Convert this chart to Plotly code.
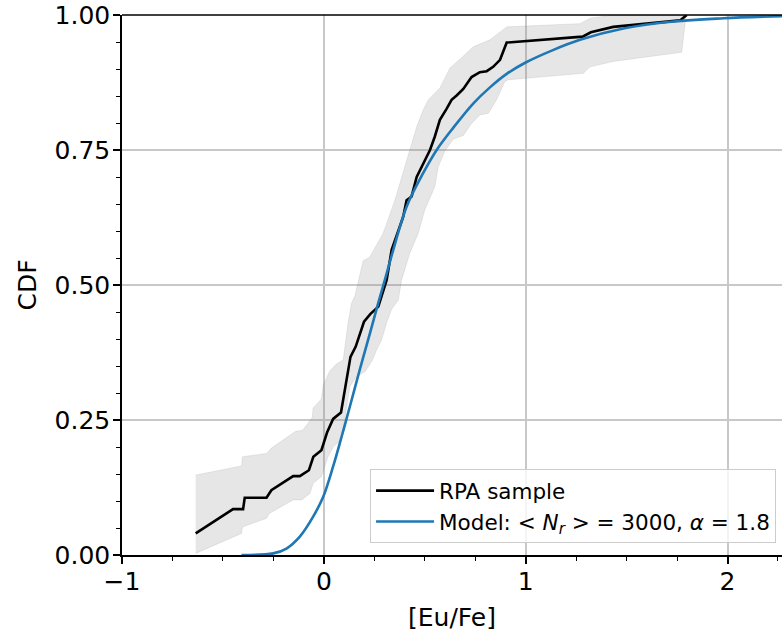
import plotly.graph_objects as go

# ---- data ----
rpa_x = [-0.635, -0.45, -0.40, -0.392, -0.284, -0.26, -0.152, -0.119, -0.074, -0.052,
         -0.012, 0.017, 0.046, 0.085, 0.132, 0.158, 0.199, 0.23, 0.27, 0.286, 0.311,
         0.336, 0.393, 0.41, 0.435, 0.46, 0.484, 0.526, 0.55, 0.575, 0.608, 0.633,
         0.658, 0.691, 0.732, 0.773, 0.807, 0.839, 0.873, 0.906, 1.282, 1.323, 1.434,
         1.765, 1.798]
rpa_y = [0.040, 0.085, 0.085, 0.106, 0.106, 0.12, 0.146, 0.146, 0.157, 0.182,
         0.194, 0.228, 0.252, 0.264, 0.367, 0.386, 0.432, 0.446, 0.46, 0.478, 0.509,
         0.565, 0.626, 0.657, 0.664, 0.70, 0.719, 0.75, 0.775, 0.806, 0.826, 0.843,
         0.851, 0.863, 0.885, 0.894, 0.896, 0.904, 0.917, 0.949, 0.960, 0.968, 0.978,
         0.990, 1.0]

band_upper_x = [-0.635, -0.408, -0.403, -0.284, -0.26, -0.14, -0.105, -0.058, -0.053,
                -0.012, -0.003, 0.03, 0.063, 0.096, 0.12, 0.137, 0.154, 0.178, 0.195,
                0.228, 0.294, 0.352, 0.402, 0.435, 0.46, 0.492, 0.518, 0.575, 0.625,
                0.674, 0.74, 0.823, 0.881, 0.906, 1.269, 1.319, 1.434, 1.795]
band_upper_y = [0.148, 0.165, 0.182, 0.188, 0.198, 0.229, 0.231, 0.254, 0.272,
                0.289, 0.315, 0.341, 0.354, 0.361, 0.43, 0.466, 0.48, 0.52, 0.545,
                0.552, 0.596, 0.657, 0.719, 0.762, 0.793, 0.824, 0.843, 0.865, 0.902,
                0.918, 0.941, 0.954, 0.972, 0.978, 0.984, 0.994, 1.0, 1.0]

band_lower_x = [-0.635, -0.408, -0.403, -0.284, -0.27, -0.152, -0.11, -0.069, -0.053,
                -0.012, 0.021, 0.046, 0.088, 0.129, 0.162, 0.205, 0.24, 0.262, 0.286,
                0.311, 0.336, 0.369, 0.385, 0.426, 0.468, 0.5, 0.55, 0.567, 0.6, 0.64,
                0.691, 0.732, 0.773, 0.815, 0.856, 0.897, 0.914, 1.286, 1.319, 1.434,
                1.773, 1.795]
band_lower_y = [0.003, 0.04, 0.052, 0.068, 0.077, 0.102, 0.102, 0.114, 0.133,
                0.145, 0.182, 0.2, 0.214, 0.312, 0.33, 0.34, 0.36, 0.38, 0.398,
                0.43, 0.455, 0.472, 0.509, 0.559, 0.596, 0.639, 0.682, 0.719, 0.748, 0.77,
                0.777, 0.799, 0.815, 0.818, 0.843, 0.877, 0.88, 0.892, 0.904, 0.914,
                0.931, 1.0]

model_x = [-0.408, -0.251, -0.185, -0.119, -0.053, -0.003, 0.046, 0.088, 0.129, 0.178,
           0.228, 0.269, 0.302, 0.344, 0.41, 0.492, 0.559, 0.641, 0.74, 0.823, 0.906,
           1.0, 1.135, 1.269, 1.484, 1.732, 1.98, 2.27]
model_y = [0.0, 0.003, 0.012, 0.034, 0.071, 0.108, 0.164, 0.219, 0.275, 0.343,
           0.41, 0.466, 0.509, 0.565, 0.645, 0.707, 0.75, 0.791, 0.836, 0.866, 0.891,
           0.912, 0.935, 0.954, 0.975, 0.988, 0.994, 0.998]

x_ticks = [-1, 0, 1, 2]
y_ticks = [0.0, 0.25, 0.5, 0.75, 1.0]

FONT = "DejaVu Sans"

fig = go.Figure()

# shaded band (closed polygon: upper then reversed lower)
fig.add_trace(go.Scatter(
    x=band_upper_x + band_lower_x[::-1],
    y=band_upper_y + band_lower_y[::-1],
    fill="toself", fillcolor="rgba(128,128,128,0.2)",
    line=dict(color="rgba(128,128,128,0.15)", width=1),
    mode="lines", showlegend=False, hoverinfo="skip"))

fig.add_trace(go.Scatter(
    x=rpa_x, y=rpa_y, mode="lines", name="RPA sample",
    line=dict(color="black", width=2.6)))

fig.add_trace(go.Scatter(
    x=model_x, y=model_y, mode="lines", line_shape="spline",
    name="Model: &lt; <i>N</i><sub><i>r</i></sub> &gt; = 3000, <i>α</i> = 1.8",
    line=dict(color="#1f77b4", width=2.6)))

fig.update_layout(
    width=782, height=634,
    margin=dict(l=122, r=0, t=15, b=79, autoexpand=False),
    plot_bgcolor="white", paper_bgcolor="white",
    font=dict(family=FONT, color="black", size=24),
    showlegend=True,
    legend=dict(
        x=0.991, y=0.022, xanchor="right", yanchor="bottom",
        bgcolor="rgba(255,255,255,0.8)", bordercolor="#cccccc", borderwidth=1,
        font=dict(family=FONT, size=21.5, color="black"),
        tracegroupgap=0, itemwidth=58),
    xaxis=dict(
        range=[-1, 2.27], tickvals=x_ticks, ticks="outside", ticklen=7, tickwidth=1.5,
        tickcolor="black", showline=True, linecolor="black", linewidth=1.5,
        showgrid=True, gridcolor="#c8c8c8", gridwidth=1.6, zeroline=False,
        tickfont=dict(size=25), ticklabelstandoff=-4, automargin=False,
        ticklabeloverflow="allow",
        minor=dict(dtick=0.25, ticks="outside", ticklen=4, tickwidth=1.2,
                   tickcolor="black", showgrid=False),
        title=dict(text="[Eu/Fe]", font=dict(size=25), standoff=14)),
    yaxis=dict(
        range=[0, 1], tickvals=y_ticks, tickformat=".2f", ticks="outside", ticklen=7,
        tickwidth=1.5, tickcolor="black", showline=True, linecolor="black",
        linewidth=1.5, showgrid=True, gridcolor="#c8c8c8", gridwidth=1.6,
        zeroline=False, tickfont=dict(size=25), ticklabelstandoff=-2, automargin=False,
        ticklabeloverflow="allow",
        minor=dict(dtick=0.05, ticks="outside", ticklen=4, tickwidth=1.2,
                   tickcolor="black", showgrid=False),
        title=dict(text="CDF", font=dict(size=25), standoff=11)),
    shapes=[dict(type="line", xref="paper", yref="paper", x0=0, x1=1, y0=1, y1=1,
                 line=dict(color="black", width=1.5))],
)

# remove the default 8px page margin so the figure fills the window exactly
fig.write_html("out.html", config={"displayModeBar": False},
               post_script="document.body.style.margin='0';")
